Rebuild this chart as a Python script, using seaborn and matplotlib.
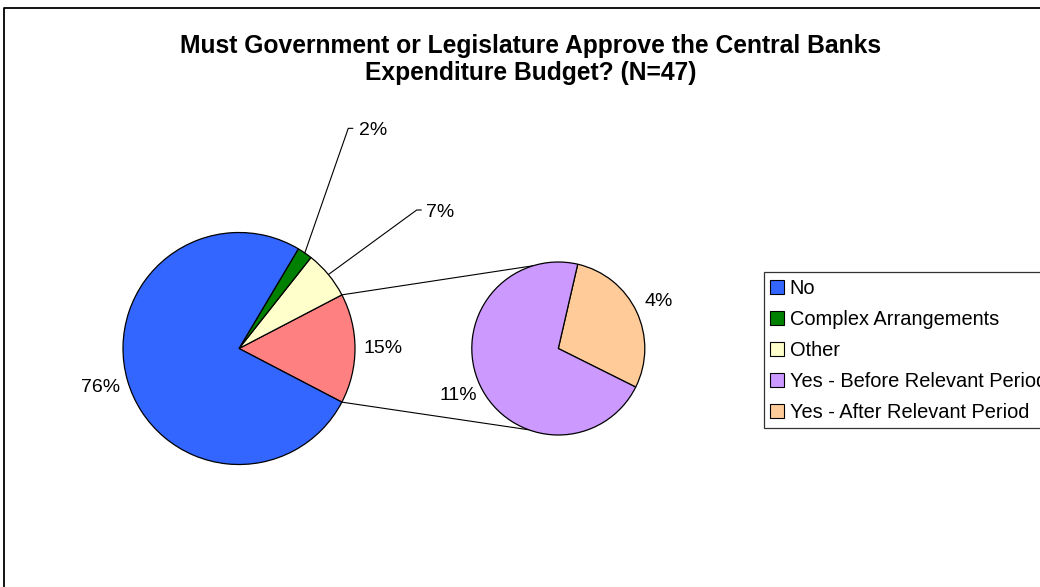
import numpy as np
import matplotlib
matplotlib.use("Agg")
import matplotlib.pyplot as plt
from matplotlib.patches import Patch
from matplotlib.lines import Line2D
import seaborn as sns

# Survey answers, percent of central banks
categories = ["No", "Complex Arrangements", "Other",
              "Yes - Before Relevant Period", "Yes - After Relevant Period"]
shares = [75.9, 2.1, 6.7, 10.9, 4.4]
colors = ["#3366FF", "#008000", "#FFFFCC", "#CC99FF", "#FFCC99"]
yes_color = "#FF8080"
title = ("Must Government or Legislature Approve the Central Banks\n"
         "Expenditure Budget? (N=47)")

sns.set_theme(style="white")
plt.rcParams["font.family"] = ["Liberation Sans", "DejaVu Sans"]
plt.rcParams["text.color"] = "black"

W, H, DPI = 1040, 587, 100
fig = plt.figure(figsize=(W / DPI, H / DPI), dpi=DPI)
fig.patch.set_facecolor("white")
ax = fig.add_axes([0, 0, 1, 1])

# one data unit = main pie radius, laid out in pixels
PX = 116.0
cx0, cy0 = 239.0, 348.5
sec_center = ((558.3 - cx0) / PX, 0.0)
sec_radius = 86.5 / PX

no, complex_, other, before, after = shares
yes_total = before + after

edge = dict(edgecolor="black", linewidth=0.9)

# main pie: the combined "Yes" slice faces the secondary pie
main_vals = [yes_total, other, complex_, no]
main_cols = [yes_color, colors[2], colors[1], colors[0]]
main_start = -yes_total / sum(main_vals) * 360 / 2
main_wedges, _ = ax.pie(main_vals, colors=main_cols, startangle=main_start,
                        counterclock=True, radius=1.0, center=(0, 0),
                        wedgeprops=edge, frame=True)

# secondary pie splitting the "Yes" answers
sec_vals = [after, before]
sec_cols = [colors[4], colors[3]]
sec_wedges, _ = ax.pie(sec_vals, colors=sec_cols, startangle=-26.5,
                       counterclock=True, radius=sec_radius,
                       center=sec_center, wedgeprops=edge, frame=True)

ax.set_xlim(-cx0 / PX, (W - cx0) / PX)
ax.set_ylim(-(H - cy0) / PX, cy0 / PX)
ax.set_aspect("auto")
ax.set_axis_off()


def polar(center, r, deg):
    a = np.deg2rad(deg)
    return center[0] + r * np.cos(a), center[1] + r * np.sin(a)


def mid(w):
    return (w.theta1 + w.theta2) / 2


# connector lines between the pies
yw = main_wedges[0]
for a_main, a_sec in [(yw.theta2, 107.0), (yw.theta1, 250.0)]:
    x0, y0 = polar((0, 0), 1.0, a_main)
    x1, y1 = polar(sec_center, sec_radius, a_sec)
    ax.plot([x0, x1], [y0, y1], color="black", lw=0.8,
            solid_capstyle="butt", zorder=0.5)

fs = 14.0
lab = lambda v: f"{v:.0f}%"

# labels of the large main slices
for w, v in [(main_wedges[0], yes_total), (main_wedges[3], no)]:
    x, y = polar((0, 0), 1.24, mid(w))
    ax.text(x, y, lab(v), ha="center", va="center", fontsize=fs)

# labels of the thin main slices, pulled out with leader lines
for w, v, elbow, tx in [(main_wedges[2], complex_, (0.942, 1.898), 1.034),
                        (main_wedges[1], other, (1.532, 1.194), 1.612)]:
    x0, y0 = polar((0, 0), 1.0, mid(w))
    ex, ey = elbow
    ax.plot([x0, ex, ex + 0.04], [y0, ey, ey], color="black", lw=0.8)
    ax.text(tx, ey - 0.02, lab(v), ha="left", va="center", fontsize=fs)

# labels of the secondary pie
for w, v in [(sec_wedges[0], after), (sec_wedges[1], before)]:
    x, y = polar(sec_center, sec_radius * 1.28, mid(w))
    ax.text(x, y, lab(v), ha="center", va="center", fontsize=fs)

# title
fig.text(530.5 / W, 1 - 59.5 / H, title, ha="center", va="center",
         fontsize=17.7, fontweight="bold", linespacing=1.2, color="black")

# legend (its right part runs past the chart edge)
handles = [Patch(facecolor=c, edgecolor="black", linewidth=0.8) for c in colors]
leg = fig.legend(handles, categories, loc="upper left",
                 bbox_to_anchor=(763.5 / W, 1 - 272 / H),
                 bbox_transform=fig.transFigure, borderaxespad=0,
                 fontsize=14.4, frameon=True, fancybox=False, shadow=False,
                 handlelength=0.7, handleheight=0.7, handletextpad=0.28,
                 labelspacing=0.6, borderpad=0.33)
leg.get_frame().set_edgecolor("black")
leg.get_frame().set_linewidth(0.9)
for t in leg.get_texts():
    t.set_color("black")

# chart area border (left and top edges)
fig.add_artist(Line2D([3.5 / W, 3.5 / W, 1.0], [0.0, 1 - 8 / H, 1 - 8 / H],
                      transform=fig.transFigure, color="black", lw=1.3))

fig.savefig("out.png", dpi=DPI, facecolor="white")
